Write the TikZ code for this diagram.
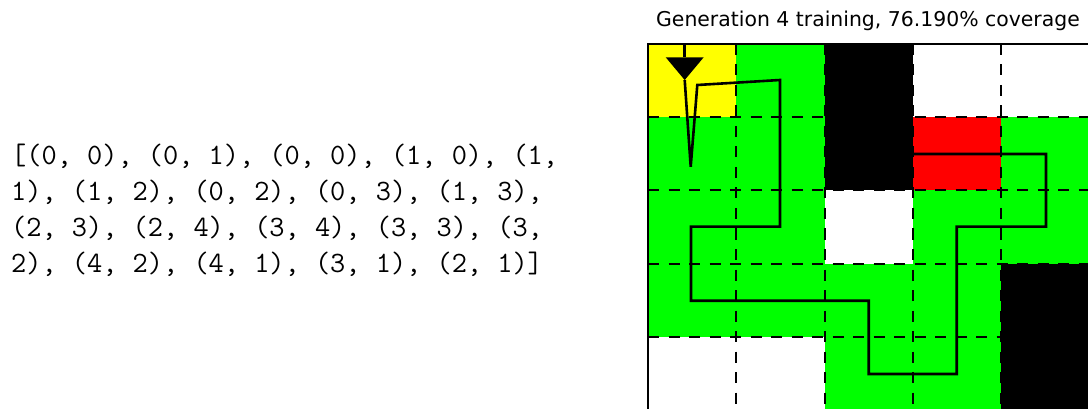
\documentclass[tikz,border=0pt]{standalone}
\usepackage{fontspec}
\newfontfamily\plotfont{DejaVu Sans}
\definecolor{visited}{RGB}{0,255,0}
\definecolor{startcell}{RGB}{255,255,0}
\definecolor{clash}{RGB}{255,0,0}

\begin{document}
\begin{tikzpicture}[
  x=1pt, y=-1pt,
  gridline/.style={dash pattern=on 11pt off 9.5pt, line width=2pt},
  frame/.style={line width=2.2pt},
  route/.style={line width=2.6pt, line join=miter},
  listline/.style={anchor=base west, inner sep=0pt, font=\fontsize{29.5}{36}\selectfont\ttfamily},
  plottitle/.style={anchor=base, inner sep=0pt, font=\fontsize{20.4}{24}\selectfont\plotfont}
]
\useasboundingbox (0,0) rectangle (1088,409);
\def\cw{88.3}
\def\ch{73.2}

% visited path as text
\node[listline] (line1) at (11,164.3) {[(0, 0), (0, 1), (0, 0), (1, 0), (1,};
\node[listline] (line2) at (11,200.3) {1), (1, 2), (0, 2), (0, 3), (1, 3),};
\node[listline] (line3) at (11,236.3) {(2, 3), (2, 4), (3, 4), (3, 3), (3,};
\node[listline] (line4) at (11,272.3) {2), (4, 2), (4, 1), (3, 1), (2, 1)]};

% title
\node[plottitle] (title) at (868,26.7) {Generation 4 training, 76.190\% coverage};

% cells (row/col/colour)
\foreach \r/\c/\col in {0/0/startcell, 0/1/visited, 0/2/black,
    1/0/visited, 1/1/visited, 1/2/black, 1/3/clash, 1/4/visited,
    2/0/visited, 2/1/visited, 2/3/visited, 2/4/visited,
    3/0/visited, 3/1/visited, 3/2/visited, 3/3/visited, 3/4/black,
    4/2/visited, 4/3/visited, 4/4/black}
  \fill[\col] ({648+\c*\cw},{44+\r*\ch}) rectangle ++(\cw,\ch);

% grid
\foreach \i in {1,...,4} {
  \draw[gridline] ({648+\i*\cw},44) -- ({648+\i*\cw},409);
  \draw[gridline] (648,{44+\i*\ch}) -- (1088,{44+\i*\ch});
}
\draw[frame] (648,409) -- (648,44) -- (1088,44);

% route
\draw[route] (684.7,44) -- (684.7,57.3);
\fill (665.7,57.3) -- (703.7,57.3) -- (684.7,80) -- cycle;
\draw[route] (684.7,80) -- (690.7,166.7) -- (697.3,85) -- (780,80)
  -- (780,226.7) -- (691,226.7) -- (691,300.7) -- (868.7,300.7)
  -- (868.7,374) -- (956.7,374) -- (956.7,226.7) -- (1046,226.7)
  -- (1046,154) -- (914,154);

\end{tikzpicture}
\end{document}
